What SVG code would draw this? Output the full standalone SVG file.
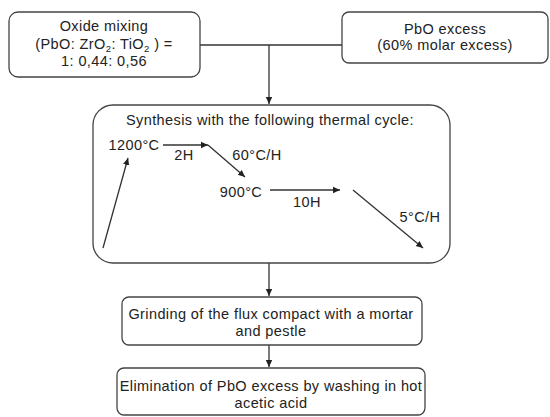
<svg xmlns="http://www.w3.org/2000/svg" width="550" height="417" viewBox="0 0 550 417">
<style>
.box{fill:#fff;stroke:#444;stroke-width:1.3}
.t{font-family:"Liberation Sans",Arial,sans-serif;font-size:14.5px;letter-spacing:0.4px;fill:#222;text-anchor:middle}
.ln{stroke:#333;stroke-width:1.3;fill:none}
</style>
<defs>
<marker id="ah" markerWidth="8" markerHeight="8" refX="7" refY="4" orient="auto" markerUnits="userSpaceOnUse">
<path d="M0,0.8 L7,4 L0,7.2 Z" fill="#222"/>
</marker>
</defs>
<rect width="550" height="417" fill="#fff"/>
<g id="connectors">
<path class="ln" d="M200,45 H342"/>
<path class="ln" d="M269,45 V104" marker-end="url(#ah)"/>
<path class="ln" d="M269,263 V296" marker-end="url(#ah)"/>
<path class="ln" d="M269,345 V367" marker-end="url(#ah)"/>
</g>
<g id="oxide">
<rect class="box" x="9" y="12" width="191" height="65" rx="9"/>
<text class="t" x="104" y="31">Oxide mixing</text>
<text class="t" x="104" y="49">(PbO: ZrO<tspan font-size="9.5" dy="3">2</tspan><tspan dy="-3">: TiO</tspan><tspan font-size="9.5" dy="3">2</tspan><tspan dy="-3"> ) =</tspan></text>
<text class="t" x="104" y="66">1: 0,44: 0,56</text>
</g>
<g id="pbo">
<rect class="box" x="342" y="12" width="206" height="51" rx="7"/>
<text class="t" x="445" y="34">PbO excess</text>
<text class="t" x="445" y="50">(60% molar excess)</text>
</g>
<g id="synthesis">
<rect class="box" x="93" y="105" width="357" height="158" rx="20"/>
<text class="t" x="270" y="125">Synthesis with the following thermal cycle:</text>
<text class="t" x="134" y="150">1200°C</text>
<text class="t" x="184" y="160">2H</text>
<text class="t" x="257" y="160">60°C/H</text>
<text class="t" x="241" y="197">900°C</text>
<text class="t" x="307" y="207">10H</text>
<text class="t" x="420" y="222">5°C/H</text>
<path class="ln" d="M163,145 H208" marker-end="url(#ah)"/>
<path class="ln" d="M208,145 L245,177" marker-end="url(#ah)"/>
<path class="ln" d="M270,190 H340" marker-end="url(#ah)"/>
<path class="ln" d="M353,190 L423,248" marker-end="url(#ah)"/>
<path class="ln" d="M103,248 L128,158" marker-end="url(#ah)"/>
</g>
<g id="grinding">
<rect class="box" x="122" y="297" width="300" height="48" rx="7"/>
<text class="t" x="271" y="319">Grinding of the flux compact with a mortar</text>
<text class="t" x="271" y="336">and pestle</text>
</g>
<g id="elimination">
<rect class="box" x="117" y="368" width="308" height="47" rx="7"/>
<text class="t" x="271" y="391">Elimination of PbO excess by washing in hot</text>
<text class="t" x="271" y="408">acetic acid</text>
</g>
</svg>
